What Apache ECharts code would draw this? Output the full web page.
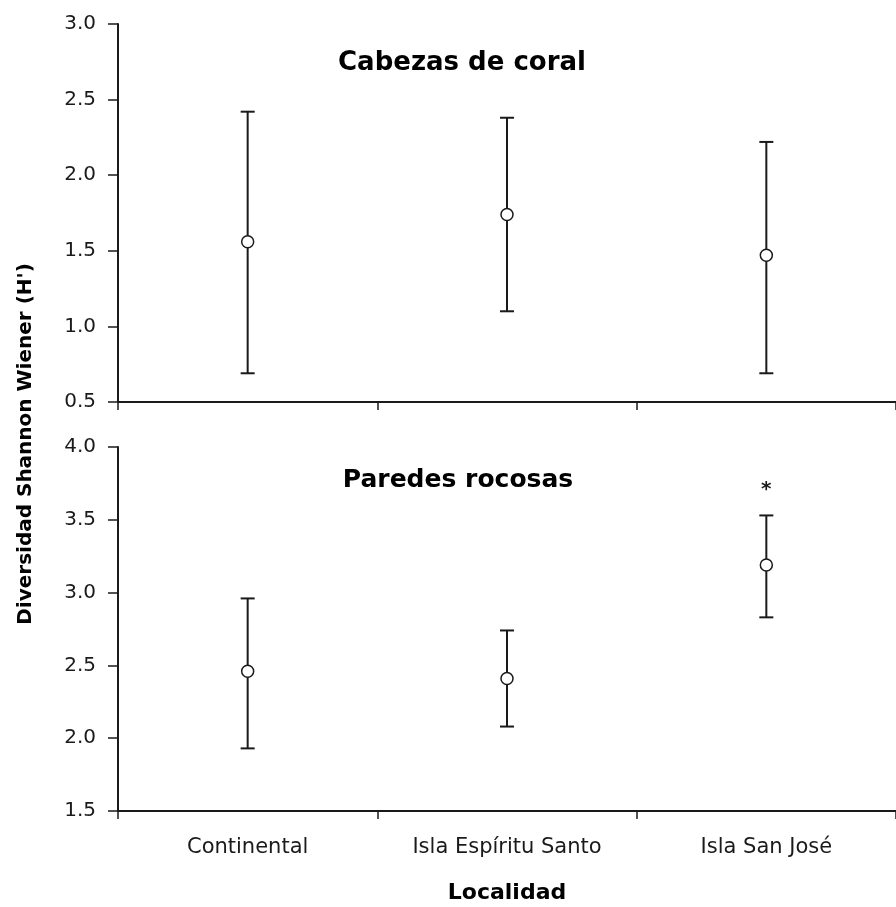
<!DOCTYPE html>
<html>
<head>
<meta charset="utf-8">
<script src="https://cdn.jsdelivr.net/npm/echarts@6/dist/echarts.min.js"></script>
<style>
html,body{margin:0;padding:0;background:#fff;}
#chart{width:896px;height:907px;}
</style>
</head>
<body>
<div id="chart"></div>
<script>
const categories = ['Continental', 'Isla Espíritu Santo', 'Isla San José'];
const coralMean = [1.56, 1.74, 1.47];
const coralLow = [0.69, 1.10, 0.69];
const coralHigh = [2.42, 2.38, 2.22];
const coralSig = ['', '', ''];
const rocaMean = [2.46, 2.41, 3.19];
const rocaLow = [1.93, 2.08, 2.83];
const rocaHigh = [2.96, 2.74, 3.53];
const rocaSig = ['', '', '*'];
const panelTitles = ['Cabezas de coral', 'Paredes rocosas'];
const yName = "Diversidad Shannon Wiener (H')";
const xName = 'Localidad';

const FONT = '"DejaVu Sans", Verdana, sans-serif';
const INK = '#1a1a1a';

const errSig = { 0: coralSig, 2: rocaSig };
function errData(low, high) {
  return categories.map((c, i) => [i, low[i], high[i]]);
}
function renderErr(params, api) {
  const x = api.value(0);
  const lo = api.coord([x, api.value(1)]);
  const hi = api.coord([x, api.value(2)]);
  const sig = errSig[params.seriesIndex][params.dataIndex];
  const hw = 7;
  const st = { stroke: INK, lineWidth: 2 };
  const children = [
    { type: 'line', shape: { x1: hi[0], y1: hi[1], x2: lo[0], y2: lo[1] }, style: st },
    { type: 'line', shape: { x1: hi[0] - hw, y1: hi[1], x2: hi[0] + hw, y2: hi[1] }, style: st },
    { type: 'line', shape: { x1: lo[0] - hw, y1: lo[1], x2: lo[0] + hw, y2: lo[1] }, style: st }
  ];
  if (sig) {
    children.push({ type: 'text', x: hi[0], y: hi[1] - 26, style: { text: sig, fill: INK, font: 'bold 20px ' + FONT, align: 'center', verticalAlign: 'middle' } });
  }
  return { type: 'group', children };
}

function xAxisCfg(idx, showLabels) {
  return {
    type: 'category', gridIndex: idx, data: categories,
    boundaryGap: true,
    axisLine: { lineStyle: { color: INK, width: 2 } },
    axisTick: { show: true, length: 8, inside: false, lineStyle: { color: INK, width: 1.5 } },
    axisLabel: { show: showLabels, margin: 26, fontSize: 21, color: INK, fontFamily: FONT },
    name: showLabels ? xName : '',
    nameLocation: 'middle', nameGap: 71,
    nameTextStyle: { fontSize: 22, fontWeight: 'bold', color: '#000', fontFamily: FONT }
  };
}
function yAxisCfg(idx, min, max) {
  return {
    type: 'value', gridIndex: idx, min, max, interval: 0.5,
    axisLine: { show: true, lineStyle: { color: INK, width: 2 } },
    axisTick: { show: true, length: 10, lineStyle: { color: INK, width: 1.5 } },
    splitLine: { show: false },
    axisLabel: { margin: 22, fontSize: 20, color: INK, fontFamily: FONT, formatter: v => v.toFixed(1) }
  };
}

const chart = echarts.init(document.getElementById('chart'));
chart.setOption({
  backgroundColor: '#fff',
  animation: false,
  grid: [
    { left: 118, top: 24, right: 0, height: 378 },
    { left: 118, top: 447, right: 0, height: 364 }
  ],
  xAxis: [xAxisCfg(0, false), xAxisCfg(1, true)],
  yAxis: [yAxisCfg(0, 0.5, 3.0), yAxisCfg(1, 1.5, 4.0)],
  graphic: [
    { type: 'text', x: 462, y: 63, style: { text: panelTitles[0], font: 'bold 26px ' + FONT, fill: '#000', align: 'center', verticalAlign: 'middle' } },
    { type: 'text', x: 458, y: 480, style: { text: panelTitles[1], font: 'bold 25px ' + FONT, fill: '#000', align: 'center', verticalAlign: 'middle' } },
    { type: 'text', x: 26, y: 444, rotation: Math.PI / 2, style: { text: yName, font: 'bold 20px ' + FONT, fill: '#000', align: 'center', verticalAlign: 'middle' } }
  ],
  series: [
    { type: 'custom', xAxisIndex: 0, yAxisIndex: 0, renderItem: renderErr, data: errData(coralLow, coralHigh), z: 2 },
    { type: 'scatter', xAxisIndex: 0, yAxisIndex: 0, data: coralMean, symbol: 'circle', symbolSize: 12,
      itemStyle: { color: '#fff', borderColor: INK, borderWidth: 1.5, opacity: 1 }, z: 3 },
    { type: 'custom', xAxisIndex: 1, yAxisIndex: 1, renderItem: renderErr, data: errData(rocaLow, rocaHigh), z: 2 },
    { type: 'scatter', xAxisIndex: 1, yAxisIndex: 1, data: rocaMean, symbol: 'circle', symbolSize: 12,
      itemStyle: { color: '#fff', borderColor: INK, borderWidth: 1.5, opacity: 1 }, z: 3 }
  ]
});
</script>
</body>
</html>
